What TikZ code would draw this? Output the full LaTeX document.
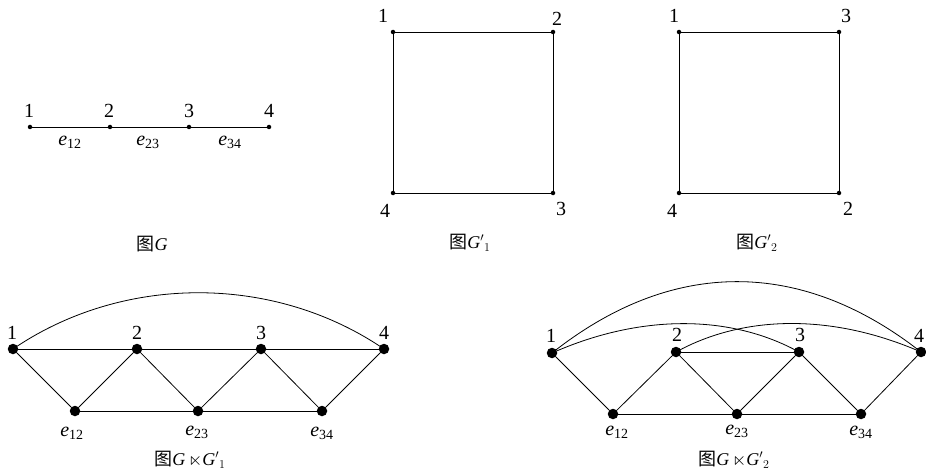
\documentclass[tikz,border=0pt]{standalone}
\usepackage{amssymb}
\usepackage{fontspec}
\setmainfont{Liberation Serif}
\newfontfamily\cjk{Noto Sans CJK SC}
\begin{document}
\begin{tikzpicture}[x=1pt,y=-1pt,
  edge/.style={line width=0.8pt},
  sdot/.style={circle,fill=black,inner sep=0pt,minimum size=4.5pt},
  bdot/.style={circle,fill=black,inner sep=0pt,minimum size=10.5pt},
  lab/.style={inner sep=0pt,font=\fontsize{20}{20}\selectfont},
  captext/.style={inner sep=0pt,font=\fontsize{18}{18}\selectfont}]
\useasboundingbox (0,0) rectangle (926,476);

% ---------- Graph G ----------
\node[sdot] (g1) at (30,127) {};
\node[sdot] (g2) at (110,127) {};
\node[sdot] (g3) at (189,127) {};
\node[sdot] (g4) at (269,127) {};
\draw[edge] (g1) -- (g2) -- (g3) -- (g4);
\node[lab] (lg1) at (29,111) {1};
\node[lab] (lg2) at (109,111) {2};
\node[lab] (lg3) at (189,111) {3};
\node[lab] (lg4) at (269,111) {4};
\node[lab] (le12) at (70,142) {\textit{e}\textsubscript{12}};
\node[lab] (le23) at (148,142) {\textit{e}\textsubscript{23}};
\node[lab] (le34) at (230,142) {\textit{e}\textsubscript{34}};
\node[captext] (capG) at (152,244) {{\cjk 图}\textit{G}};

% ---------- Graph G'1 ----------
\node[sdot] (a1) at (393,32) {};
\node[sdot] (a2) at (553,32) {};
\node[sdot] (a3) at (553,193) {};
\node[sdot] (a4) at (393,193) {};
\draw[edge] (a1) -- (a2) -- (a3) -- (a4) -- (a1);
\node[lab] (la1) at (383,16) {1};
\node[lab] (la2) at (557,19) {2};
\node[lab] (la3) at (561,209) {3};
\node[lab] (la4) at (385,211) {4};
\node[captext] (capA) at (470,243) {{\cjk 图}$\textit{G}'{}_1$};

% ---------- Graph G'2 ----------
\node[sdot] (b1) at (679,32) {};
\node[sdot] (b3) at (839,32) {};
\node[sdot] (b2) at (839,193) {};
\node[sdot] (b4) at (679,193) {};
\draw[edge] (b1) -- (b3) -- (b2) -- (b4) -- (b1);
\node[lab] (lb1) at (674,16) {1};
\node[lab] (lb3) at (846,16) {3};
\node[lab] (lb2) at (848,209) {2};
\node[lab] (lb4) at (672,211) {4};
\node[captext] (capB) at (757,243) {{\cjk 图}$\textit{G}'{}_2$};

% ---------- G x G'1 ----------
\node[bdot] (p1) at (13,349) {};
\node[bdot] (p2) at (137,349) {};
\node[bdot] (p3) at (261,349) {};
\node[bdot] (p4) at (384,349) {};
\node[bdot] (q1) at (75,411) {};
\node[bdot] (q2) at (198,411) {};
\node[bdot] (q3) at (322,411) {};
\draw[edge] (p1) -- (p2) -- (p3) -- (p4);
\draw[edge] (q1) -- (q2) -- (q3);
\draw[edge] (p1) -- (q1) -- (p2) -- (q2) -- (p3) -- (q3) -- (p4);
\draw[edge] (p1.center) .. controls (123,274) and (274,274) .. (p4.center);
\node[lab] (lp1) at (12,333) {1};
\node[lab] (lp2) at (137,333) {2};
\node[lab] (lp3) at (261,333) {3};
\node[lab] (lp4) at (384,333) {4};
\node[lab] (lq1) at (72,433) {\textit{e}\textsubscript{12}};
\node[lab] (lq2) at (197,432) {\textit{e}\textsubscript{23}};
\node[lab] (lq3) at (322,433) {\textit{e}\textsubscript{34}};
\node[captext] (capC) at (190,460) {{\cjk 图}\textit{G}\,$\ltimes$$\textit{G}'{}_1$};

% ---------- G x G'2 ----------
\node[bdot] (r1) at (552,353) {};
\node[bdot] (r2) at (676,352) {};
\node[bdot] (r3) at (799,352) {};
\node[bdot] (r4) at (921,352) {};
\node[bdot] (s1) at (613,414) {};
\node[bdot] (s2) at (737,414) {};
\node[bdot] (s3) at (861,414) {};
\draw[edge] (r2) -- (r3);
\draw[edge] (s1) -- (s2) -- (s3);
\draw[edge] (r1) -- (s1) -- (r2) -- (s2) -- (r3) -- (s3) -- (r4);
\draw[edge] (r1.center) .. controls (672,258) and (801,258) .. (r4.center);
\draw[edge] (r1.center) .. controls (640,314) and (730,314) .. (r3.center);
\draw[edge] (r2.center) .. controls (745,314) and (834,314) .. (r4.center);
\node[lab] (lr1) at (551,336) {1};
\node[lab] (lr2) at (677,335) {2};
\node[lab] (lr3) at (800,335) {3};
\node[lab] (lr4) at (919,336) {4};
\node[lab] (ls1) at (617,432) {\textit{e}\textsubscript{12}};
\node[lab] (ls2) at (737,431) {\textit{e}\textsubscript{23}};
\node[lab] (ls3) at (861,432) {\textit{e}\textsubscript{34}};
\node[captext] (capD) at (734,460) {{\cjk 图}\textit{G}\,$\ltimes$$\textit{G}'{}_2$};
\end{tikzpicture}
\end{document}
